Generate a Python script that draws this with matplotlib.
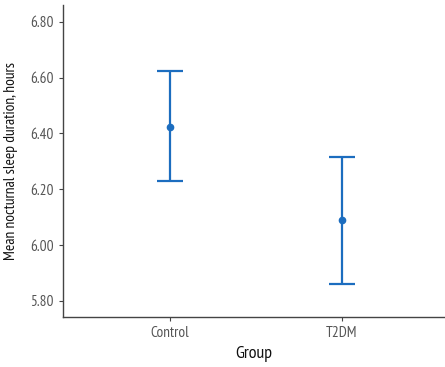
import matplotlib
matplotlib.use("Agg")
import matplotlib.pyplot as plt
from matplotlib import font_manager

groups = ["Control", "T2DM"]
means = [6.424, 6.088]
lower = [6.229, 5.862]
upper = [6.624, 6.314]
yticks = [5.80, 6.00, 6.20, 6.40, 6.60, 6.80]

names = {f.name for f in font_manager.fontManager.ttflist}
fam = "DejaVu Sans"
for cand in ["PT Sans Narrow", "Fira Sans Condensed", "Roboto Condensed",
             "Open Sans Condensed", "Archivo Narrow", "Liberation Sans Narrow"]:
    if cand in names:
        fam = cand
        break
plt.rcParams["font.family"] = [fam, "DejaVu Sans"]

fig = plt.figure(figsize=(4.45, 3.67), dpi=100)
ax = fig.add_axes([63/445, 50/367, 382/445, 312/367])

x = list(range(len(groups)))
err_lo = [m - l for m, l in zip(means, lower)]
err_hi = [u - m for m, u in zip(means, upper)]
color = "#1c6dbf"
ax.errorbar(x, means, yerr=[err_lo, err_hi], fmt="o", color=color, ecolor=color,
            elinewidth=1.6, capsize=9.5, capthick=1.6, markersize=4.5)

ax.set_xlim(-0.62, 1.6)
ax.set_ylim(5.742, 6.86)
ax.set_yticks(yticks)
ax.set_yticklabels([f"{v:.2f}" for v in yticks])
ax.set_xticks(x)
ax.set_xticklabels(groups)

for s in ["top", "right"]:
    ax.spines[s].set_visible(False)
for s in ["left", "bottom"]:
    ax.spines[s].set_color("#444444")
    ax.spines[s].set_linewidth(1.0)
ax.tick_params(axis="both", colors="#444444", labelcolor="#555555", labelsize=11, length=3)

ax.set_xlabel("Group", fontsize=13, color="#111111", labelpad=4)
ax.set_ylabel("Mean nocturnal sleep duration, hours", fontsize=11.2, color="#111111", labelpad=9)

fig.savefig("out.png", dpi=100)
